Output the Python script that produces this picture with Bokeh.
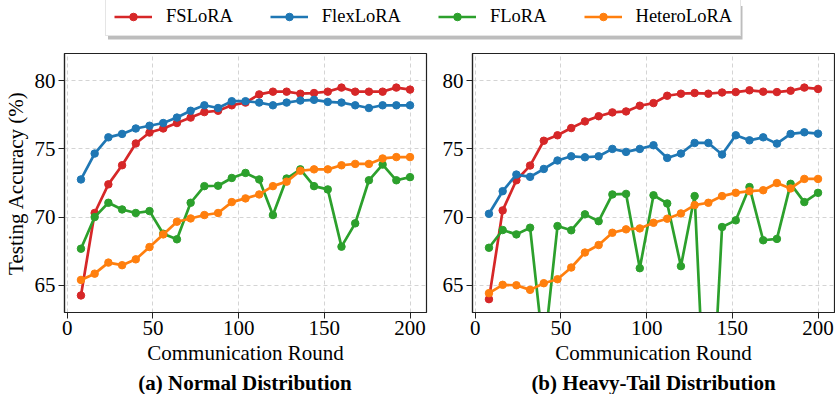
from bokeh.plotting import figure
from bokeh.models import Legend, LegendItem, Range1d
from bokeh.layouts import column, row
from bokeh.core.properties import value
from bokeh.embed import file_html
from bokeh.resources import INLINE

rounds = [8, 16, 24, 32, 40, 48, 56, 64, 72, 80, 88, 96, 104, 112, 120, 128,
          136, 144, 152, 160, 168, 176, 184, 192, 200]

x_ticks = [0, 50, 100, 150, 200]
y_ticks = [65, 70, 75, 80]

methods = ["FSLoRA", "FlexLoRA", "FLoRA", "HeteroLoRA"]
colors = ["#d62728", "#1f77b4", "#2ca02c", "#ff7f0e"]
subtitles = ["(a) Normal Distribution", "(b) Heavy-Tail Distribution"]

# (a) Normal Distribution
normal_fslora = [64.25, 70.3, 72.4, 73.8, 75.4, 76.2, 76.5, 76.9, 77.3, 77.7, 77.8, 78.2, 78.4,
                 79.0, 79.2, 79.2, 79.05, 79.1, 79.2, 79.5, 79.2, 79.2, 79.2, 79.5, 79.35]
normal_flexlora = [72.76, 74.66, 75.85, 76.1, 76.5, 76.7, 76.9, 77.3, 77.8, 78.2, 78.0, 78.5, 78.5,
                   78.4, 78.2, 78.4, 78.55, 78.6, 78.45, 78.4, 78.2, 78.0, 78.2, 78.2, 78.2]
normal_flora = [67.68, 70.0, 71.05, 70.56, 70.3, 70.44, 68.78, 68.37, 71.05, 72.27, 72.3, 72.87, 73.24,
                72.76, 70.15, 72.83, 73.5, 72.27, 72.03, 67.83, 69.54, 72.7, 73.85, 72.7, 72.93]
normal_heterolora = [65.39, 65.85, 66.66, 66.47, 66.9, 67.8, 68.73, 69.66, 69.9, 70.15, 70.3, 71.1, 71.37,
                     71.66, 72.27, 72.6, 73.4, 73.5, 73.5, 73.8, 73.9, 73.9, 74.3, 74.4, 74.4]

# (b) Heavy-Tail Distribution
heavy_fslora = [63.98, 70.49, 72.7, 73.78, 75.6, 76.0, 76.53, 77.02, 77.4, 77.68, 77.75, 78.17, 78.36,
                78.9, 79.05, 79.1, 79.05, 79.14, 79.17, 79.3, 79.2, 79.17, 79.27, 79.5, 79.4]
heavy_flexlora = [70.24, 71.9, 73.12, 72.95, 73.53, 74.15, 74.46, 74.39, 74.46, 75.0, 74.78, 75.0, 75.27,
                  74.34, 74.66, 75.44, 75.44, 74.59, 76.0, 75.63, 75.85, 75.39, 76.1, 76.22, 76.12]
heavy_flora = [67.75, 69.05, 68.73, 69.22, 60.0, 69.34, 69.03, 70.2, 69.7, 71.66, 71.7, 66.25, 71.6,
               71.0, 66.4, 71.54, 50.3, 69.27, 69.76, 72.2, 68.3, 68.4, 72.44, 71.1, 71.78]
heavy_heterolora = [64.42, 65.03, 65.0, 64.66, 65.15, 65.44, 66.3, 67.4, 67.95, 68.85, 69.1, 69.17, 69.58,
                    69.88, 70.27, 70.88, 71.05, 71.54, 71.78, 71.9, 71.97, 72.5, 72.1, 72.8, 72.8]

FONT = "Liberation Serif"


def make_panel(series, width, left, right, ylabel):
    p = figure(width=width, height=325, x_range=Range1d(-1.6, 209.6), y_range=Range1d(63, 82),
               output_backend="svg", toolbar_location=None,
               min_border_left=left, min_border_right=right, min_border_top=8, min_border_bottom=58)
    p.background_fill_color = "white"
    p.border_fill_color = "white"
    p.outline_line_color = "#222222"
    p.outline_line_width = 1.2
    p.outline_line_alpha = 1
    for vals, c in zip(series, colors):
        p.line(rounds, vals, line_color=c, line_width=2.7)
        p.scatter(rounds, vals, size=7.5, fill_color=c, line_color=c, marker="circle")
    p.xaxis.ticker = x_ticks
    p.yaxis.ticker = y_ticks
    for ax in (p.xaxis, p.yaxis):
        ax.axis_line_color = "#222222"
        ax.axis_line_width = 1.2
        ax.major_tick_line_color = "#222222"
        ax.major_tick_out = 6
        ax.major_tick_in = 0
        ax.minor_tick_line_color = None
        ax.major_label_text_font = FONT
        ax.major_label_text_font_size = "21px"
        ax.major_label_text_color = "black"
        ax.major_label_standoff = 3
        ax.axis_label_text_font = FONT
        ax.axis_label_text_font_size = "21px"
        ax.axis_label_text_font_style = "normal"
        ax.axis_label_text_color = "black"
    p.xaxis.major_label_standoff = 2
    p.xaxis.axis_label = "Communication Round"
    p.xaxis.axis_label_standoff = 3
    if ylabel:
        p.yaxis.axis_label = "Testing Accuracy (%)"
        p.yaxis.axis_label_standoff = 4
    p.grid.grid_line_color = "#d4d4d4"
    p.grid.grid_line_dash = "4 3"
    p.grid.grid_line_width = 1
    return p


p1 = make_panel([normal_fslora, normal_flexlora, normal_flora, normal_heterolora], 436, 63, 10, True)
p2 = make_panel([heavy_fslora, heavy_flexlora, heavy_flora, heavy_heterolora], 399, 36, 1, False)

# legend strip
lf = figure(width=835, height=45, x_range=Range1d(0, 835), y_range=Range1d(0, 45),
            output_backend="svg", toolbar_location=None, x_axis_location=None, y_axis_location=None,
            min_border=0)
lf.grid.visible = False
lf.outline_line_color = None
lf.background_fill_color = "white"
lf.border_fill_color = "white"
lf.quad(left=[107.5], right=[742], bottom=[6], top=[39.5], fill_color="#bdbdbd", line_color=None)
items = []
for name, c in zip(methods, colors):
    r1 = lf.line(x=[-100, -90], y=[-100, -100], line_color=c, line_width=2.7)
    r2 = lf.scatter(x=[-100], y=[-100], size=6, fill_color=c, line_color=c, marker="circle")
    items.append(LegendItem(label=name, renderers=[r1, r2]))
legend = Legend(items=items, orientation="horizontal", location=(105, 9),
                label_text_font=FONT, label_text_font_size="18.5px", label_text_color="black",
                glyph_width=38, glyph_height=19, label_height=19, label_standoff=14,
                spacing=37, padding=8, margin=0,
                border_line_color="#cccccc", border_line_width=1,
                background_fill_color="white", background_fill_alpha=1)
lf.add_layout(legend)

# subtitle strip
sf = figure(width=835, height=24, x_range=Range1d(0, 835), y_range=Range1d(0, 24),
            output_backend="svg", toolbar_location=None, x_axis_location=None, y_axis_location=None,
            min_border=0)
sf.grid.visible = False
sf.outline_line_color = None
sf.background_fill_color = "white"
sf.border_fill_color = "white"
sf.text(x=[244.5, 653], y=[12, 12], text=subtitles, text_font=value(FONT), text_font_size="21px",
        text_font_style="bold", text_color="black", text_align="center", text_baseline="middle")

root = column(lf, row(p1, p2), sf)

open("out.html", "w").write(file_html(root, INLINE))
